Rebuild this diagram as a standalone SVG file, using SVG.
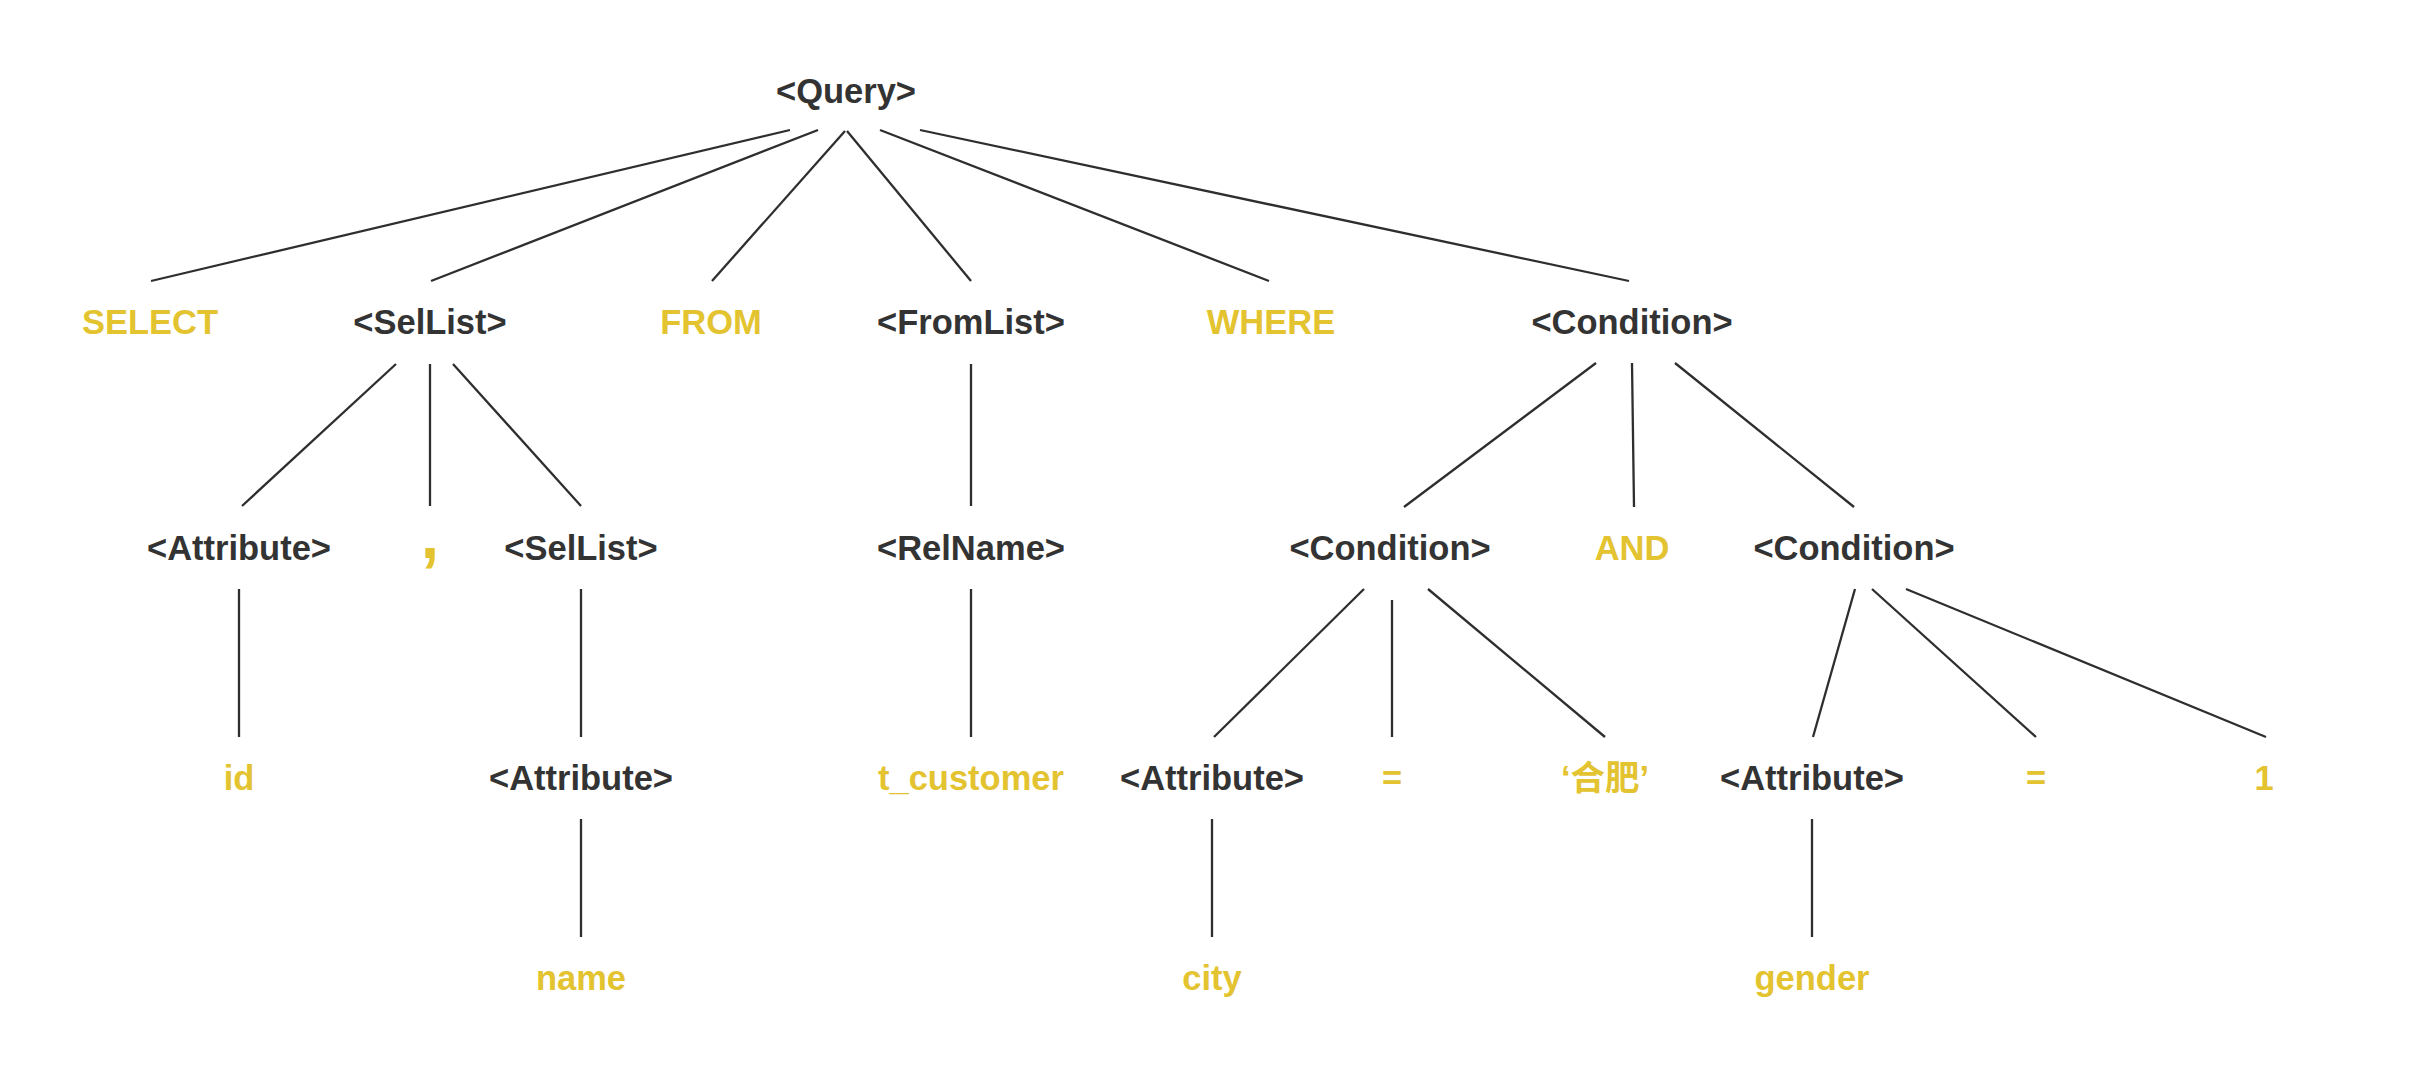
<svg xmlns="http://www.w3.org/2000/svg" width="2417" height="1068" viewBox="0 0 2417 1068">
<style>
text{font-family:"Liberation Sans",Arial,"Noto Sans CJK SC",sans-serif;font-weight:bold;font-size:34.5px;text-anchor:middle}
.n{fill:#333333}
.t{fill:#E3C32F}
.e line{stroke:#2e2e2e;stroke-width:2.3;stroke-linecap:butt}
</style>
<rect width="2417" height="1068" fill="#ffffff"/>
<g class="e" id="connectors">
<line x1="790" y1="130" x2="151" y2="281"/>
<line x1="818" y1="130" x2="431" y2="281"/>
<line x1="845" y1="131" x2="712" y2="281"/>
<line x1="847" y1="131" x2="971" y2="281"/>
<line x1="880" y1="130" x2="1269" y2="281"/>
<line x1="920" y1="130" x2="1629" y2="281"/>
<line x1="396" y1="364" x2="242" y2="506"/>
<line x1="430" y1="364" x2="430" y2="506"/>
<line x1="453" y1="364" x2="581" y2="506"/>
<line x1="971" y1="364" x2="971" y2="506"/>
<line x1="1596" y1="363" x2="1404" y2="507"/>
<line x1="1632" y1="363" x2="1634" y2="507"/>
<line x1="1675" y1="363" x2="1854" y2="507"/>
<line x1="239" y1="589" x2="239" y2="737"/>
<line x1="581" y1="589" x2="581" y2="737"/>
<line x1="971" y1="589" x2="971" y2="737"/>
<line x1="1364" y1="589" x2="1214" y2="737"/>
<line x1="1392" y1="600" x2="1392" y2="737"/>
<line x1="1428" y1="589" x2="1605" y2="737"/>
<line x1="1855" y1="589" x2="1813" y2="737"/>
<line x1="1872" y1="589" x2="2036" y2="737"/>
<line x1="1906" y1="589" x2="2266" y2="737"/>
<line x1="581" y1="819" x2="581" y2="937"/>
<line x1="1212" y1="819" x2="1212" y2="937"/>
<line x1="1812" y1="819" x2="1812" y2="937"/>
</g>
<g id="query"><text class="n" x="846" y="103">&lt;Query&gt;</text></g>
<g id="select"><text class="t" x="150" y="334">SELECT</text></g>
<g id="sellist1"><text class="n" x="430" y="334">&lt;SelList&gt;</text></g>
<g id="from"><text class="t" x="711" y="334">FROM</text></g>
<g id="fromlist"><text class="n" x="971" y="334">&lt;FromList&gt;</text></g>
<g id="where"><text class="t" x="1271" y="334">WHERE</text></g>
<g id="condition1"><text class="n" x="1632" y="334">&lt;Condition&gt;</text></g>
<g id="attribute1"><text class="n" x="239" y="560">&lt;Attribute&gt;</text></g>
<g id="comma"><text class="t" x="430" y="558" style="font-size:66px">,</text></g>
<g id="sellist2"><text class="n" x="581" y="560">&lt;SelList&gt;</text></g>
<g id="relname"><text class="n" x="971" y="560">&lt;RelName&gt;</text></g>
<g id="condition2"><text class="n" x="1390" y="560">&lt;Condition&gt;</text></g>
<g id="and"><text class="t" x="1632" y="560">AND</text></g>
<g id="condition3"><text class="n" x="1854" y="560">&lt;Condition&gt;</text></g>
<g id="id"><text class="t" x="239" y="790">id</text></g>
<g id="attribute2"><text class="n" x="581" y="790">&lt;Attribute&gt;</text></g>
<g id="tcustomer"><text class="t" x="971" y="790">t_customer</text></g>
<g id="attribute3"><text class="n" x="1212" y="790">&lt;Attribute&gt;</text></g>
<g id="eq1"><text class="t" x="1392" y="790">=</text></g>
<g id="hefei"><text class="t" x="1605" y="790">‘合肥’</text></g>
<g id="attribute4"><text class="n" x="1812" y="790">&lt;Attribute&gt;</text></g>
<g id="eq2"><text class="t" x="2036" y="790">=</text></g>
<g id="one"><text class="t" x="2264" y="790">1</text></g>
<g id="name"><text class="t" x="581" y="990">name</text></g>
<g id="city"><text class="t" x="1212" y="990">city</text></g>
<g id="gender"><text class="t" x="1812" y="990">gender</text></g>
</svg>
